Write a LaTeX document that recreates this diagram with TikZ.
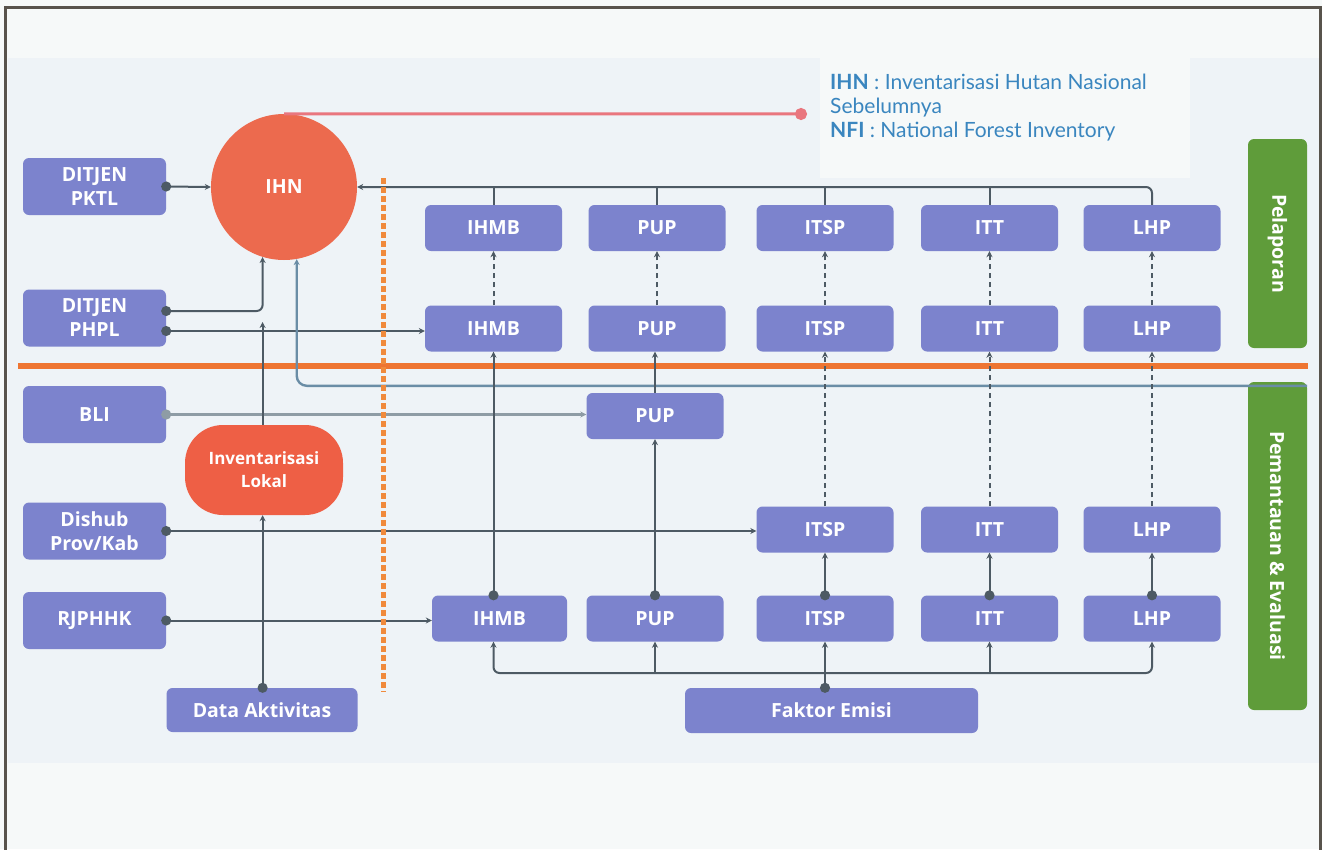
\documentclass[tikz,border=0pt]{standalone}
\usepackage{fontspec}
\setsansfont{Open Sans}
\newfontfamily\latofont{Lato}
\usetikzlibrary{arrows.meta,calc}
\definecolor{boxc}{HTML}{7C83CD}
\definecolor{ihnc}{HTML}{EC6A4E}
\definecolor{invc}{HTML}{EE5F45}
\definecolor{grc}{HTML}{5F9C3A}
\definecolor{orc}{HTML}{EE7532}
\definecolor{orlc}{HTML}{F08A3C}
\definecolor{linec}{HTML}{4D5A64}
\definecolor{lightlc}{HTML}{8E9CA5}
\definecolor{bluelc}{HTML}{6A8DA6}
\definecolor{redlc}{HTML}{E9767E}
\definecolor{legc}{HTML}{3A86BF}
\definecolor{bgout}{HTML}{F6F9F9}
\definecolor{bgpanel}{HTML}{EEF3F7}
\definecolor{framec}{HTML}{58534C}
\begin{document}
\begin{tikzpicture}[x=1pt,y=-1pt,
  lbl/.style={font=\sffamily\bfseries\fontsize{19.5}{24}\selectfont},
  box/.style={lbl, fill=boxc, rounded corners=6pt, text=white, inner sep=0pt, align=center, minimum width=137pt, minimum height=46pt},
  lbox/.style={box, minimum width=143pt, minimum height=57pt},
  gbox/.style={lbl, fill=grc, rounded corners=6pt, text=white, rotate=-90, minimum height=59pt, inner sep=0pt},
  conn/.style={draw=linec, line width=2pt},
  arr/.style={-{Stealth[length=6pt,width=6pt]}},
  dotarr/.style={{Circle[length=10pt]}-{Stealth[length=6pt,width=6pt]}, shorten <=-5pt},
  dsh/.style={dash pattern=on 5pt off 4pt},
]
\useasboundingbox (0,0) rectangle (1322,849);
\clip (0,0) rectangle (1322,849);
\fill[bgout] (0,0) rectangle (1322,849);
\fill[bgpanel] (8,58) rectangle (1320,763);
\fill[bgout] (820,58) rectangle (1190,178);
\draw[framec, line width=3pt] (5,880) -- (5,7) -- (1320,7) -- (1320,880);

% orange separator
\draw[orc, line width=6pt] (18,366) -- (1308,366);

% left column
\node[lbox] (pktl) at (94.5,186.5) {DITJEN\\PKTL};
\node[lbox] (phpl) at (94.5,318) {DITJEN\\PHPL};
\node[lbox] (bli) at (94.5,414.5) {BLI};
\node[lbox] (dishub) at (94.5,531) {Dishub\\Prov/Kab};
\node[lbox] (rjphhk) at (94.5,620.5) {RJPHHK};
\node[box, minimum width=191pt, minimum height=44pt] (dataakt) at (262,710) {Data Aktivitas};
\node[box, minimum width=293pt, minimum height=45pt] (faktor) at (831.5,710.5) {Faktor Emisi};

% IHN and local inventory
\node[circle, fill=ihnc, minimum size=146pt, inner sep=0pt, text=white, lbl] (ihn) at (284,187) {IHN};
\node[fill=invc, rounded corners=38pt, minimum width=158pt, minimum height=90pt, inner sep=0pt, text=white, align=center, font=\sffamily\bfseries\fontsize{17}{23}\selectfont] (invl) at (264,470) {Inventarisasi\\Lokal};

% grid row 1
\node[box] (ihmb1) at (493.5,228) {IHMB};
\node[box] (pup1) at (657,228) {PUP};
\node[box] (itsp1) at (825,228) {ITSP};
\node[box] (itt1) at (989.5,228) {ITT};
\node[box] (lhp1) at (1152,228) {LHP};
% row 2
\node[box] (ihmb2) at (493.5,328.5) {IHMB};
\node[box] (pup2) at (657,328.5) {PUP};
\node[box] (itsp2) at (825,328.5) {ITSP};
\node[box] (itt2) at (989.5,328.5) {ITT};
\node[box] (lhp2) at (1152,328.5) {LHP};
% row 3
\node[box] (pup3) at (655,416) {PUP};
% row 4
\node[box] (itsp4) at (825,529.5) {ITSP};
\node[box] (itt4) at (989.5,529.5) {ITT};
\node[box] (lhp4) at (1152,529.5) {LHP};
% row 5
\node[box, minimum width=135pt] (ihmb5) at (499.5,618.5) {IHMB};
\node[box] (pup5) at (655,618.5) {PUP};
\node[box] (itsp5) at (825,618.5) {ITSP};
\node[box] (itt5) at (989.5,618.5) {ITT};
\node[box] (lhp5) at (1152,618.5) {LHP};

% green side boxes
\node[gbox, minimum width=209pt] (pel) at (1277.5,243.5) {Pelaporan};
\node[gbox, minimum width=328pt] (pem) at (1277.5,546) {Pemantauan \& Evaluasi};

% legend
\coordinate (legdot) at (807,114);
\draw[redlc, line width=3pt, -{Circle[length=12pt]}] (ihn.north) -- (legdot);
\node[anchor=north west, inner sep=0pt, align=left, text=legc, font=\latofont\fontsize{21}{24}\selectfont] (leg) at (830,74) {\textbf{IHN} : Inventarisasi Hutan Nasional\\Sebelumnya\\\textbf{NFI} : National Forest Inventory};

% top reporting bus
\draw[conn, arr, rounded corners=6pt] (lhp1.north) |- (ihn.east);
\foreach \n in {ihmb1,pup1,itsp1,itt1} \draw[conn] (\n.north) -- (\n.north |- ihn.east);

% dashed row2 -> row1
\foreach \c in {ihmb,pup,itsp,itt,lhp} \draw[conn, dsh, arr] (\c2.north) -- (\c1.south);

% left inputs
\draw[conn, dotarr] (pktl.east) -- (ihn.west);
\draw[conn, dotarr, rounded corners=6pt] ([yshift=7pt]phpl.east) -| (ihn.253);
\draw[conn, dotarr] ([yshift=-13pt]phpl.east) -- ([yshift=-13pt]phpl.east -| ihmb2.west);
\draw[draw=lightlc, line width=2.8pt, dotarr] (bli.east) -- (bli.east -| pup3.west);
\draw[conn, dotarr] (dishub.east) -- (dishub.east -| itsp4.west);
\draw[conn, dotarr] (rjphhk.east) -- (rjphhk.east -| ihmb5.west);

% local inventory and activity data
\coordinate (join) at ($(ihn.253 |- phpl.east)+(0,4)$);
\draw[conn, arr] (invl.north -| join) -- (join);
\draw[conn, dotarr] (dataakt.north -| join) -- (invl.south -| join);

% monitoring feedback to IHN
\draw[draw=bluelc, line width=2.4pt, arr, rounded corners=10pt] ([yshift=-4pt]pem.north west) -| (ihn.280);

% verticals within grid
\draw[conn, dotarr] (ihmb5.north -| ihmb2.south) -- (ihmb2.south);
\draw[conn, dotarr] (pup5.north) -- (pup3.south);
\draw[conn, arr] (pup3.north) -- (pup3.north |- pup2.south);
\foreach \c in {itsp,itt,lhp} {
  \draw[conn, dotarr] (\c5.north) -- (\c4.south);
  \draw[conn, dsh, arr] (\c4.north) -- (\c2.south);
}

% emission factor bus
\coordinate (fbus) at (itsp5.south |- 0,673);
\draw[conn, dotarr] (itsp5.south |- faktor.north) -- (itsp5.south);
\draw[conn, arr, rounded corners=6pt] (fbus) -| (ihmb5.south -| ihmb2.south);
\draw[conn, arr, rounded corners=6pt] (fbus) -| (lhp5.south);
\draw[conn, arr] (pup5.south |- fbus) -- (pup5.south);
\draw[conn, arr] (itt5.south |- fbus) -- (itt5.south);

% dashed orange boundary
\draw[orlc, line width=5pt, dash pattern=on 6pt off 3pt] (383,178) -- (383,692);
\end{tikzpicture}
\end{document}
